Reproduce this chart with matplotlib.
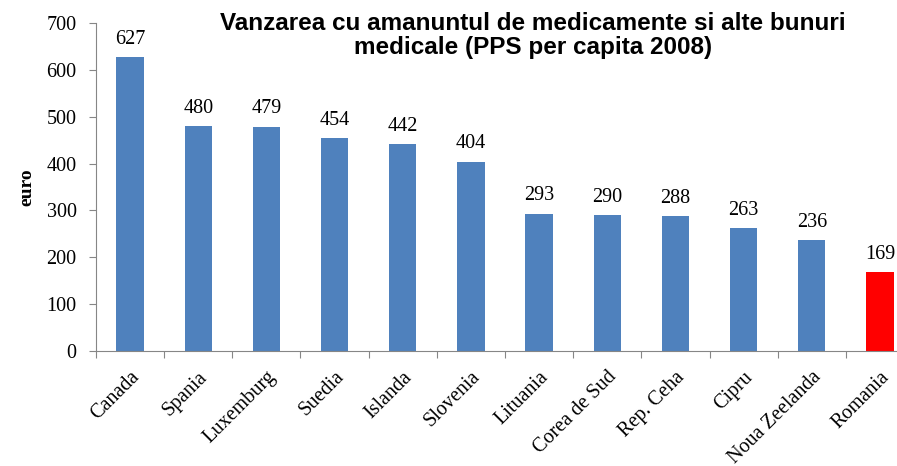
import matplotlib.pyplot as plt

tari = ["Canada", "Spania", "Luxemburg", "Suedia", "Islanda", "Slovenia",
        "Lituania", "Corea de Sud", "Rep. Ceha", "Cipru", "Noua Zeelanda", "Romania"]
valori = [627, 480, 479, 454, 442, 404, 293, 290, 288, 263, 236, 169]
culori = ["#4F81BD"] * 11 + ["#FF0000"]
y_ticks = [0, 100, 200, 300, 400, 500, 600, 700]

serif = "Liberation Serif"

fig = plt.figure(figsize=(8.97, 4.66), dpi=100)
ax = fig.add_axes([0.107, 0.2468, 0.912, 0.7039])

x = range(len(tari))
ax.bar(x, valori, width=0.4, color=culori)

for i, v in enumerate(valori):
    ax.annotate(str(v), (i, v), xytext=(0, 9.5), textcoords="offset points",
                ha="center", va="baseline", fontsize=14.5, family=serif)

ax.set_xlim(-0.5, len(tari) - 0.5)
ax.set_ylim(0, 700)
ax.set_yticks(y_ticks)
ax.set_yticklabels([str(t) for t in y_ticks], fontsize=14.5, family=serif)

ax.set_xticks([i - 0.5 for i in range(len(tari) + 1)])
ax.set_xticklabels([])
ax.set_xticks(list(x), minor=True)
ax.set_xticklabels(tari, minor=True, rotation=45, ha="right", va="top",
                   rotation_mode="anchor", fontsize=14.5, family=serif)
ax.tick_params(axis="x", which="minor", length=0, pad=12)
ax.tick_params(axis="x", which="major", length=5, color="#868686")
ax.tick_params(axis="y", length=5, color="#868686", pad=9)

for s in ["top", "right"]:
    ax.spines[s].set_visible(False)
ax.spines["left"].set_color("#868686")
ax.spines["bottom"].set_color("#868686")

ax.set_ylabel("euro", fontsize=14, fontweight="bold", family=serif, labelpad=8)

fig.text(0.594, 0.975, "Vanzarea cu amanuntul de medicamente si alte bunuri\nmedicale (PPS per capita 2008)",
         ha="center", va="top", fontsize=17.5, fontweight="bold",
         family="Liberation Sans", linespacing=1.05)

fig.savefig("out.png", dpi=100)
